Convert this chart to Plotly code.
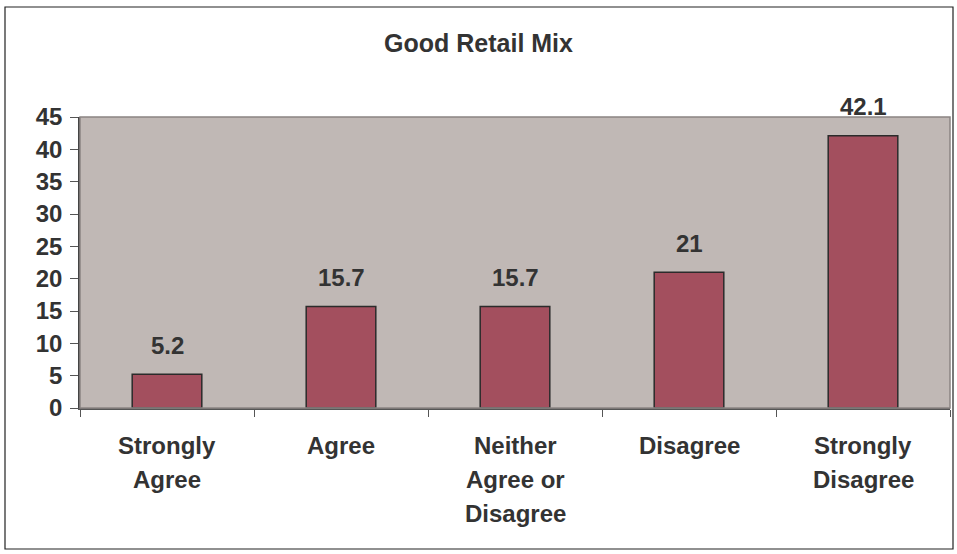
import plotly.graph_objects as go

# Survey responses: "Good Retail Mix"
categories = ["Strongly Agree", "Agree", "Neither Agree or Disagree", "Disagree", "Strongly Disagree"]
label_lines = [["Strongly", "Agree"], ["Agree"], ["Neither", "Agree or", "Disagree"], ["Disagree"], ["Strongly", "Disagree"]]
values = [5.2, 15.7, 15.7, 21, 42.1]
value_text = ["5.2", "15.7", "15.7", "21", "42.1"]
y_ticks = [0, 5, 10, 15, 20, 25, 30, 35, 40, 45]

FONT = "Liberation Sans, Arial, sans-serif"
INK = "#333333"

fig = go.Figure()
fig.add_trace(go.Bar(
    x=categories,
    y=values,
    marker=dict(color="#A34F5E", line=dict(color="#2b2b2b", width=1.5)),
    hoverinfo="skip",
))

# Value labels above each bar
for c, v, t in zip(categories, values, value_text):
    fig.add_annotation(x=c, y=v, text=f"<b>{t}</b>", showarrow=False,
                       yshift=29, font=dict(family=FONT, size=24, color=INK))

# Multi-line category labels below the axis
for c, lines in zip(categories, label_lines):
    for i, line in enumerate(lines):
        fig.add_annotation(x=c, y=0, yref="y", text=f"<b>{line}</b>", showarrow=False,
                           yshift=-37 - 34 * i, font=dict(family=FONT, size=24, color=INK))

fig.update_layout(
    width=957, height=554,
    margin=dict(l=80, r=7, t=117, b=146),
    paper_bgcolor="white",
    plot_bgcolor="#C0B8B5",
    bargap=0.6,
    showlegend=False,
    title=dict(text="<b>Good Retail Mix</b>", x=0.5, xanchor="center", y=0.922, yanchor="middle",
               font=dict(family=FONT, size=25, color=INK)),
    xaxis=dict(showticklabels=False, tickson="boundaries", ticks="outside", ticklen=7,
               tickcolor="#555", showline=True, linecolor="#555", linewidth=1.5,
               showgrid=False, range=[-0.5, 4.5]),
    yaxis=dict(range=[0, 45], tickvals=y_ticks, ticks="outside", ticklen=8, tickcolor="#555",
               showline=True, linecolor="#444", linewidth=1.5, showgrid=False, zeroline=False,
               tickfont=dict(family=FONT, size=24, color=INK, weight="bold"), ticklabelstandoff=3),
)

# Plot-area frame on top/right, and the outer chart border
fig.add_shape(type="rect", xref="paper", yref="paper", x0=0, y0=0, x1=1, y1=1,
              line=dict(color="#8a8483", width=1.5), layer="above")
fig.add_shape(type="rect", xref="paper", yref="paper", x0=-75/870, y0=-141/291, x1=1+3/870, y1=1+110/291,
              line=dict(color="#222", width=1.2))

fig.write_html("out.html")
